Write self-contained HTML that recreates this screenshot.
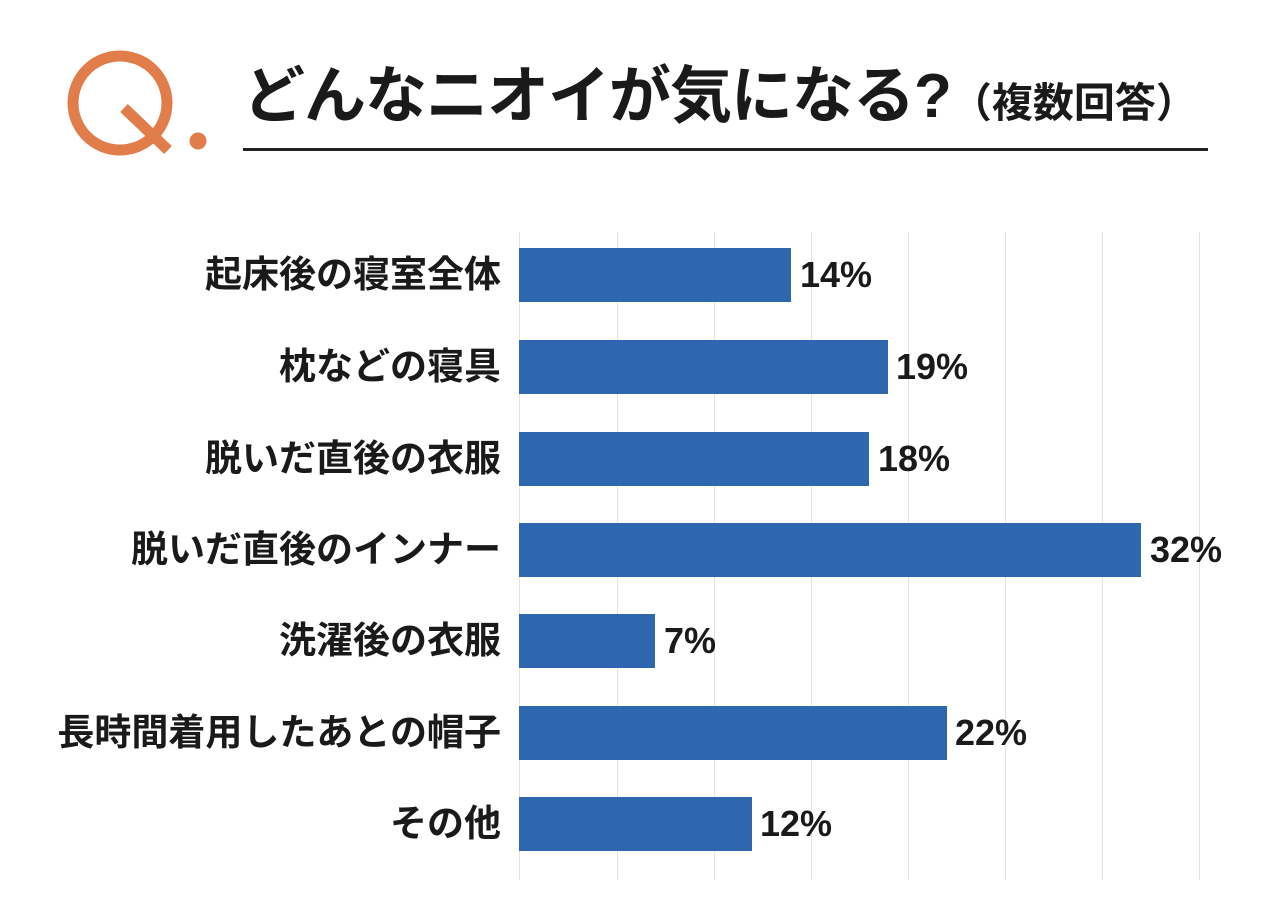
<!DOCTYPE html>
<html><head><meta charset="utf-8"><style>
body{margin:0;width:1279px;height:916px;background:#fff;overflow:hidden;position:relative;font-family:"Liberation Sans","Noto Sans CJK JP",sans-serif;}
.title{position:absolute;left:243px;top:66px;font-size:62px;font-weight:bold;color:#1a1a1a;white-space:nowrap;line-height:1;letter-spacing:-1px;}
.title small{font-size:41px;letter-spacing:0;}
.rule{position:absolute;left:243px;top:148px;width:965px;height:3px;background:#222;}
.grid{position:absolute;top:232px;height:648px;width:1px;background:#e3e3e3;}
.bar{position:absolute;left:519px;height:54px;background:#2e67ad;}
.lab{position:absolute;right:778px;font-size:37px;font-weight:bold;color:#1a1a1a;white-space:nowrap;line-height:54px;}
.val{position:absolute;font-size:36px;font-weight:bold;color:#1a1a1a;line-height:54px;}
</style></head><body>
<svg style="position:absolute;left:0;top:0" width="240" height="180">
<circle cx="120" cy="103" r="47" fill="none" stroke="#e07d4a" stroke-width="11"/>
<line x1="124" y1="108" x2="168" y2="150" stroke="#e07d4a" stroke-width="11"/>
<circle cx="198" cy="141" r="8.5" fill="#e07d4a"/>
</svg>
<div class="title">どんなニオイが気になる?<small>（複数回答）</small></div>
<div class="rule"></div>
<div class="grid" style="left:519px"></div>
<div class="grid" style="left:617px"></div>
<div class="grid" style="left:714px"></div>
<div class="grid" style="left:811px"></div>
<div class="grid" style="left:908px"></div>
<div class="grid" style="left:1005px"></div>
<div class="grid" style="left:1102px"></div>
<div class="grid" style="left:1199px"></div>

<div class="lab" style="top:248px">起床後の寝室全体</div><div class="bar" style="top:248px;width:272px"></div><div class="val" style="top:248px;left:800px">14%</div>
<div class="lab" style="top:340px">枕などの寝具</div><div class="bar" style="top:340px;width:369px"></div><div class="val" style="top:340px;left:896px">19%</div>
<div class="lab" style="top:432px">脱いだ直後の衣服</div><div class="bar" style="top:432px;width:350px"></div><div class="val" style="top:432px;left:878px">18%</div>
<div class="lab" style="top:523px">脱いだ直後のインナー</div><div class="bar" style="top:523px;width:622px"></div><div class="val" style="top:523px;left:1150px">32%</div>
<div class="lab" style="top:614px">洗濯後の衣服</div><div class="bar" style="top:614px;width:136px"></div><div class="val" style="top:614px;left:664px">7%</div>
<div class="lab" style="top:706px">長時間着用したあとの帽子</div><div class="bar" style="top:706px;width:428px"></div><div class="val" style="top:706px;left:955px">22%</div>
<div class="lab" style="top:797px">その他</div><div class="bar" style="top:797px;width:233px"></div><div class="val" style="top:797px;left:760px">12%</div>
</body></html>
